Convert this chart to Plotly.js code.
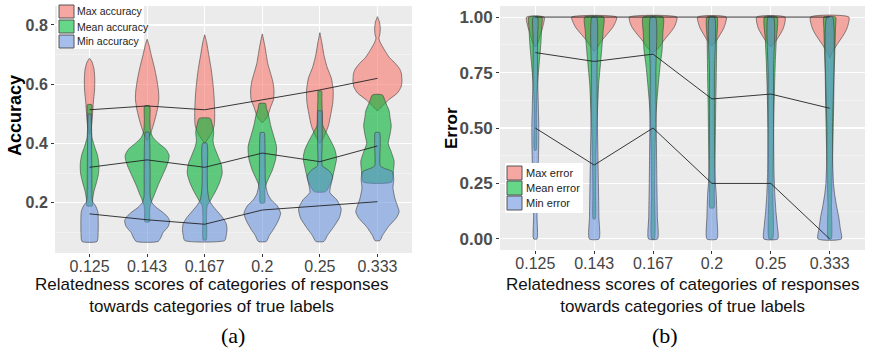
<!DOCTYPE html>
<html>
<head>
<meta charset="utf-8">
<script src="https://cdn.plot.ly/plotly-3.0.1.min.js"></script>
<style>html,body{margin:0;padding:0;background:#fff;}#chart{width:870px;height:350px;}</style>
</head>
<body>
<div id="chart"></div>
<script>
// ---------------- DATA ----------------
const categories = ['0.125', '0.143', '0.167', '0.2', '0.25', '0.333'];

const accLegendLabels = ['Max accuracy', 'Mean accuracy', 'Min accuracy'];
const errLegendLabels = ['Max error', 'Mean error', 'Min error'];
const xTitleText = 'Relatedness scores of categories of responses<br>towards categories of true labels';

// medians connected by the black lines
const accMaxMedian  = [0.514, 0.527, 0.514, 0.547, 0.581, 0.620];
const accMeanMedian = [0.320, 0.345, 0.320, 0.368, 0.339, 0.392];
const accMinMedian  = [0.163, 0.143, 0.128, 0.176, 0.190, 0.204];
const errMaxMedian  = [1, 1, 1, 1, 1, 1];
const errMeanMedian = [0.840, 0.800, 0.833, 0.631, 0.653, 0.589];
const errMinMedian  = [0.5, 0.333, 0.5, 0.25, 0.25, 0];

// violin density profiles: [value, density half-width]
const accMaxShapes = [
  [[0.43,0],[0.46,2],[0.50,3],[0.54,3.8],[0.58,5.0],[0.62,5.2],[0.65,4.5],[0.675,2.5],[0.688,0]],
  [[0.41,0],[0.43,3],[0.46,6],[0.49,8.5],[0.52,10.5],[0.55,11.7],[0.58,11.3],[0.62,9.5],[0.66,7],[0.70,4],[0.73,2],[0.752,0]],
  [[0.40,0],[0.43,6],[0.46,9.5],[0.50,10],[0.55,9.5],[0.60,8.3],[0.65,6.5],[0.70,4],[0.74,2],[0.767,0]],
  [[0.47,0],[0.49,5],[0.52,8],[0.55,11.3],[0.58,11.7],[0.61,10.5],[0.64,8],[0.67,5.5],[0.70,4],[0.73,2.5],[0.77,0]],
  [[0.40,0],[0.43,5],[0.46,8.5],[0.50,11],[0.54,13],[0.58,13.3],[0.62,11.5],[0.66,7],[0.70,4],[0.74,2],[0.774,0]],
  [[0.51,0],[0.53,6],[0.547,11],[0.57,19.8],[0.59,23.5],[0.61,24.5],[0.635,24],[0.65,22.5],[0.67,18],[0.69,12],[0.716,7],[0.74,3],[0.755,1.5],[0.77,2.5],[0.79,2.8],[0.81,2],[0.828,0]]
];
const accMeanShapes = [
  [[0.19,2.8],[0.21,3],[0.24,4.5],[0.27,7],[0.30,9],[0.33,9.3],[0.36,8],[0.39,5],[0.42,2.5],[0.46,2],[0.50,2.2],[0.531,2.2]],
  [[0.136,2.2],[0.17,2.5],[0.19,3],[0.21,5],[0.23,7.5],[0.26,11],[0.29,15],[0.32,19],[0.345,21.5],[0.36,22],[0.38,19],[0.40,12],[0.42,6],[0.44,3.5],[0.48,2.8],[0.527,2.5]],
  [[0.075,1.5],[0.15,1.8],[0.19,2.5],[0.21,6],[0.24,11],[0.27,15],[0.30,17.5],[0.33,16.5],[0.36,13],[0.39,9.5],[0.41,8.3],[0.44,9],[0.465,7.5],[0.485,5.5]],
  [[0.20,2.2],[0.24,2.5],[0.26,3.5],[0.28,6],[0.31,10],[0.35,13.5],[0.39,14.2],[0.43,11],[0.46,8.5],[0.50,6],[0.52,4],[0.535,3.3]],
  [[0.238,5.8],[0.26,10],[0.29,13],[0.32,15],[0.35,16.7],[0.38,15],[0.41,10.8],[0.44,6],[0.46,3],[0.50,2.5],[0.55,2],[0.577,1.7]],
  [[0.27,14],[0.29,15.5],[0.31,16],[0.34,16.7],[0.37,14],[0.40,10.8],[0.43,12.5],[0.46,13.8],[0.49,12.5],[0.51,11.7],[0.54,8],[0.564,5]]
];
const accMinShapes = [
  [[0.07,7.5],[0.10,8.6],[0.14,8.7],[0.17,8.3],[0.19,6],[0.205,3],[0.22,2.5],[0.30,2.3],[0.40,2],[0.47,1.8],[0.50,1.2]],
  [[0.07,11],[0.085,14],[0.10,16],[0.12,21],[0.14,22.5],[0.155,20],[0.17,15],[0.185,9],[0.20,5],[0.22,3.2],[0.30,3],[0.38,2.8],[0.42,2.5],[0.438,2]],
  [[0.073,20],[0.09,21.5],[0.11,22.3],[0.13,21.5],[0.15,18],[0.17,13],[0.19,8],[0.21,4.5],[0.24,3],[0.30,2.5],[0.36,3],[0.39,2.8],[0.402,2]],
  [[0.07,4],[0.09,7],[0.11,11],[0.14,16],[0.165,18.3],[0.19,15],[0.21,9],[0.23,5.5],[0.25,4],[0.28,3],[0.35,2.8],[0.42,2.5],[0.437,2]],
  [[0.07,4],[0.09,7.5],[0.12,14],[0.15,19.5],[0.18,21.3],[0.21,17],[0.235,10],[0.26,11],[0.29,12.8],[0.305,10],[0.313,7.5],[0.325,2.5],[0.40,2.3],[0.48,2.2],[0.51,1.8]],
  [[0.073,2.5],[0.09,5],[0.12,11],[0.15,19],[0.17,21.7],[0.19,20],[0.215,17.5],[0.25,15.5],[0.28,16.3],[0.305,15],[0.318,6],[0.325,2.8],[0.40,2.8],[0.437,2.2]]
];
const errMaxShapes = [
  [[0.865,0],[0.885,2.7],[0.922,5],[0.952,7.2],[1.0,8.8]],
  [[0.845,0],[0.862,2.8],[0.892,7.2],[0.922,12.8],[0.952,18.3],[0.975,21],[1.0,22.5]],
  [[0.84,0],[0.862,5.8],[0.892,10.3],[0.922,15.8],[0.952,20.8],[0.975,23],[1.0,23.7]],
  [[0.87,0],[0.892,4.2],[0.922,8.3],[0.952,12],[1.0,14.3]],
  [[0.865,0],[0.892,5],[0.922,9.3],[0.952,12.7],[1.0,14.2]],
  [[0.815,0],[0.84,2.5],[0.877,7.5],[0.922,14.2],[0.952,17.5],[1.0,19.2]]
];
const errMeanShapes = [
  [[0.40,0.8],[0.55,1],[0.65,1.5],[0.72,2.5],[0.80,4],[0.85,5],[0.9,5.8],[0.95,6.3],[1.0,6.5]],
  [[0.09,1],[0.2,1.3],[0.35,1.7],[0.5,2.5],[0.6,3.5],[0.7,4.5],[0.8,6.5],[0.88,8],[0.94,9],[1.0,9.5]],
  [[0,1.3],[0.2,1.5],[0.4,2],[0.55,2.8],[0.62,3.8],[0.70,5.3],[0.78,7],[0.85,9],[0.93,9.8],[1.0,10]],
  [[0.14,2],[0.2,2.3],[0.3,2.8],[0.4,3.2],[0.5,3.5],[0.6,3.8],[0.7,4.2],[0.8,4.5],[0.9,4.8],[1.0,5]],
  [[0,1.8],[0.2,2],[0.4,2.5],[0.55,3],[0.7,3.8],[0.8,4.5],[0.9,5.5],[1.0,6.3]],
  [[0,1.5],[0.15,1.8],[0.3,2.5],[0.45,3.3],[0.6,4],[0.75,4.5],[0.85,5.2],[0.95,5.8],[1.0,5.8]]
];
const errMinShapes = [
  [[0,1.7],[0.1,1.7],[0.2,2],[0.3,2.7],[0.4,3.3],[0.5,3.5],[0.6,3],[0.7,2.5],[0.8,2.2],[0.9,2.2],[1.0,2.2]],
  [[0,4.8],[0.1,4.7],[0.25,4.2],[0.5,3.3],[0.75,2.8],[1.0,2.3]],
  [[0,4.5],[0.1,4.3],[0.25,3.8],[0.5,3.2],[0.75,2.8],[1.0,2.5]],
  [[0,5],[0.1,5],[0.2,4.3],[0.25,3.5],[0.35,2.8],[0.5,2.5],[0.75,2.5],[1.0,2.5]],
  [[0,7],[0.06,6.5],[0.12,5.2],[0.2,4],[0.3,3.2],[0.5,2.8],[0.75,2.7],[1.0,2.7]],
  [[0,11.7],[0.05,10.5],[0.1,9],[0.15,6.8],[0.2,5],[0.25,3.8],[0.35,3],[0.5,2.8],[1.0,2.8]]
];

// ---------------- STYLE ----------------
const W = 870, H = 350;
const fills = ['rgba(248,118,109,0.6)', 'rgba(0,178,52,0.6)', 'rgba(97,140,220,0.55)'];
const keyFills = ['#F6A7A1', '#66D688', '#A6BEEB'];
const outline = 'rgba(60,60,60,0.85)';
const px = x => x / W;
const py = y => 1 - y / H;
const catIdx = categories.map((c, i) => i);

function violinTrace(shape, center, scale, color, xa, ya) {
  const xs = [], ys = [];
  shape.forEach(p => { xs.push(center + p[1] * scale); ys.push(p[0]); });
  for (let i = shape.length - 1; i >= 0; i--) { xs.push(center - shape[i][1] * scale); ys.push(shape[i][0]); }
  xs.push(xs[0]); ys.push(ys[0]);
  return {
    type: 'scatter', mode: 'lines', x: xs, y: ys, xaxis: xa, yaxis: ya,
    fill: 'toself', fillcolor: color,
    line: {color: outline, width: 0.7, shape: 'spline', smoothing: 0.6},
    hoverinfo: 'skip', showlegend: false
  };
}
function medianLine(vals, xa, ya) {
  return {type: 'scatter', mode: 'lines', x: catIdx, y: vals, xaxis: xa, yaxis: ya,
    line: {color: '#222', width: 0.9}, hoverinfo: 'skip', showlegend: false};
}

const traces = [];
const leftScale = 1 / 57.6, rightScale = 1 / 58.8;
[accMaxShapes, accMeanShapes, accMinShapes].forEach((group, g) =>
  group.forEach((s, i) => traces.push(violinTrace(s, i, leftScale, fills[g], 'x', 'y'))));
[errMaxShapes, errMeanShapes, errMinShapes].forEach((group, g) =>
  group.forEach((s, i) => traces.push(violinTrace(s, i, rightScale, fills[g], 'x2', 'y2'))));
[accMaxMedian, accMeanMedian, accMinMedian].forEach(v => traces.push(medianLine(v, 'x', 'y')));
[errMaxMedian, errMeanMedian, errMinMedian].forEach(v => traces.push(medianLine(v, 'x2', 'y2')));

const sans = 'Liberation Sans, Arial, sans-serif';
const tickFontX = {family: sans, size: 16, color: '#444'};
const tickFontY = {family: sans, size: 16, color: '#4D4D4D', weight: 'bold'};

function xAxis(domain, anchor) {
  return {domain: domain, anchor: anchor, range: [-0.6, 5.6], tickmode: 'array', tickvals: catIdx,
    ticktext: categories, showgrid: true, gridcolor: '#FFFFFF', gridwidth: 1.1, zeroline: false,
    ticks: 'outside', ticklen: 3, tickcolor: '#333', tickwidth: 1, tickfont: tickFontX,
    ticklabelstandoff: -4, fixedrange: true};
}

const layout = {
  width: W, height: H,
  margin: {l: 0, r: 0, t: 0, b: 0},
  paper_bgcolor: '#FFFFFF', plot_bgcolor: '#EBEBEB',
  showlegend: false,
  xaxis: xAxis([px(55), px(412)], 'y'),
  xaxis2: xAxis([px(500), px(865)], 'y2'),
  yaxis: {domain: [py(253), py(6)], anchor: 'x', range: [0.031, 0.864], tickmode: 'array',
    tickvals: [0.2, 0.4, 0.6, 0.8], ticktext: ['0.2', '0.4', '0.6', '0.8'],
    showgrid: true, gridcolor: '#FFFFFF', gridwidth: 1.1, zeroline: false,
    ticks: 'outside', ticklen: 3, tickcolor: '#333', tickfont: tickFontY,
    minor: {tickvals: [0.1, 0.3, 0.5, 0.7], showgrid: true, gridcolor: '#F7F7F7', gridwidth: 0.6, ticks: ''},
    fixedrange: true},
  yaxis2: {domain: [py(250), py(6)], anchor: 'x2', range: [-0.05, 1.05], tickmode: 'array',
    tickvals: [0, 0.25, 0.5, 0.75, 1], ticktext: ['0.00', '0.25', '0.50', '0.75', '1.00'],
    showgrid: true, gridcolor: '#FFFFFF', gridwidth: 1.1, zeroline: false,
    ticks: 'outside', ticklen: 3, tickcolor: '#333',
    tickfont: Object.assign({}, tickFontY, {size: 17}),
    minor: {tickvals: [0.125, 0.375, 0.625, 0.875], showgrid: true, gridcolor: '#F7F7F7', gridwidth: 0.6, ticks: ''},
    fixedrange: true},
  shapes: [], annotations: []
};

// legends (drawn as boxes + text)
function addLegend(labels, x0, y0, x1, y1, keyX0, keyX1, keyTops, keyH, textX, fontSize) {
  layout.shapes.push({type: 'rect', xref: 'paper', yref: 'paper', x0: px(x0), x1: px(x1), y0: py(y1), y1: py(y0),
    fillcolor: '#FFFFFF', line: {width: 0}, layer: 'above'});
  labels.forEach((lab, i) => {
    layout.shapes.push({type: 'rect', xref: 'paper', yref: 'paper', x0: px(keyX0), x1: px(keyX1),
      y0: py(keyTops[i] + keyH), y1: py(keyTops[i]), fillcolor: keyFills[i],
      line: {color: '#555', width: 1}, layer: 'above'});
    layout.annotations.push({xref: 'paper', yref: 'paper', x: px(textX), y: py(keyTops[i] + keyH / 2),
      xanchor: 'left', yanchor: 'middle', showarrow: false, text: lab,
      font: {family: sans, size: fontSize, color: '#222'}});
  });
}
addLegend(accLegendLabels, 57, 2, 144, 49, 59, 74, [5, 20, 35], 13, 75, 10.5);
addLegend(errLegendLabels, 505, 163, 583, 213, 507, 522, [166, 181, 196], 14, 524, 11);

const titleFont = {family: sans, size: 17, color: '#111'};
function addText(text, x, y, font, angle) {
  layout.annotations.push({xref: 'paper', yref: 'paper', x: px(x), y: py(y), xanchor: 'center', yanchor: 'middle',
    showarrow: false, text: text, font: font, textangle: angle || 0});
}
addText(xTitleText, 211, 295, titleFont);
addText(xTitleText, 682, 295, titleFont);
addText('Accuracy', 15, 116, {family: sans, size: 18, color: '#000', weight: 'bold'}, -90);
addText('Error', 452, 128, {family: sans, size: 17, color: '#000', weight: 'bold'}, -90);
addText('(a)', 233, 335, {family: 'Liberation Serif, DejaVu Serif, serif', size: 22, color: '#000'});
addText('(b)', 665, 335, {family: 'Liberation Serif, DejaVu Serif, serif', size: 22, color: '#000'});

Plotly.newPlot('chart', traces, layout, {displayModeBar: false, staticPlot: true});
</script>
</body>
</html>
